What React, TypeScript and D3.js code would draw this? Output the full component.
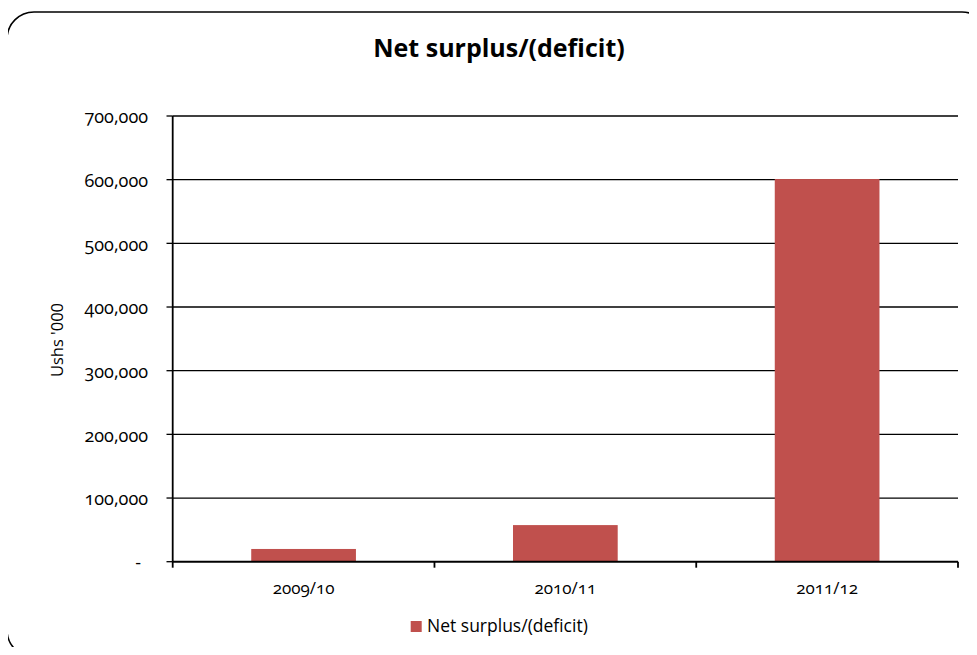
import React from "react";
import * as d3 from "d3";

const categories = ["2009/10", "2010/11", "2011/12"];
const values = [20000, 57500, 601000];
const yTicks = [0, 100000, 200000, 300000, 400000, 500000, 600000, 700000];
const seriesName = "Net surplus/(deficit)";
const titleText = "Net surplus/(deficit)";
const yAxisTitle = "Ushs '000";

const W = 977;
const H = 655;
const FONT = "'Open Sans', 'Noto Sans', sans-serif";

export default function App() {
  const left = 172.7;
  const right = 958;
  const top = 116;
  const bottom = 561.7;

  const x = d3.scaleBand<string>().domain(categories).range([left, right]).paddingInner(0.6).paddingOuter(0.3);
  const band = d3.scaleBand<string>().domain(categories).range([left, right]);
  const y = d3.scaleLinear().domain([0, 700000]).range([bottom, top]);
  const fmt = (v: number) => (v === 0 ? "-" : d3.format(",")(v));

  const boundaries = [left, ...categories.map((c) => (band(c) as number) + band.bandwidth())];

  return (
    <div style={{ margin: -8 }}>
      <svg width={W} height={H} style={{ display: "block", fontFamily: FONT }}>
        <rect x={0} y={0} width={W} height={H} fill="#fff" />
        <rect x={7} y={12} width={982} height={645} rx={27} ry={27} fill="#fff" stroke="#000" strokeWidth={1.6} />
        <text x={499} y={57} textAnchor="middle" fontWeight={700} fontSize={25} fill="#000">
          {titleText}
        </text>
        {yTicks.map((t) => (
          <g key={t}>
            {t > 0 && <line x1={left} x2={right} y1={y(t)} y2={y(t)} stroke="#000" strokeWidth={1.3} />}
            <line x1={166.5} x2={left} y1={y(t)} y2={y(t)} stroke="#000" strokeWidth={1.3} />
            <text
              x={t === 0 ? 141 : 148}
              y={y(t)}
              dy="0.4em"
              textAnchor="end"
              fontSize={18}
              fill="#000"
              style={{ fontVariantNumeric: "oldstyle-nums" }}
            >
              {fmt(t)}
            </text>
          </g>
        ))}
        {categories.map((c, i) => (
          <rect key={c} x={x(c)} y={y(values[i])} width={x.bandwidth()} height={bottom - y(values[i])} fill="#C0504D" />
        ))}
        <line x1={left} x2={left} y1={top} y2={bottom} stroke="#000" strokeWidth={1.8} />
        <line x1={left} x2={right} y1={bottom} y2={bottom} stroke="#000" strokeWidth={2} />
        {boundaries.map((b, i) => (
          <line key={i} x1={b} x2={b} y1={bottom} y2={bottom + 6} stroke="#000" strokeWidth={1.8} />
        ))}
        {categories.map((c) => (
          <text
            key={c}
            x={(band(c) as number) + band.bandwidth() / 2}
            y={594}
            textAnchor="middle"
            fontSize={17}
            fill="#000"
            style={{ fontVariantNumeric: "oldstyle-nums" }}
          >
            {c}
          </text>
        ))}
        <text
          transform={`translate(63,340) rotate(-90)`}
          textAnchor="middle"
          fontSize={16.5}
          fill="#000"
        >
          {yAxisTitle}
        </text>
        <rect x={410.7} y={621} width={11} height={11} fill="#C0504D" />
        <text x={427} y={632} fontSize={17.5} fill="#000">
          {seriesName}
        </text>
      </svg>
    </div>
  );
}
